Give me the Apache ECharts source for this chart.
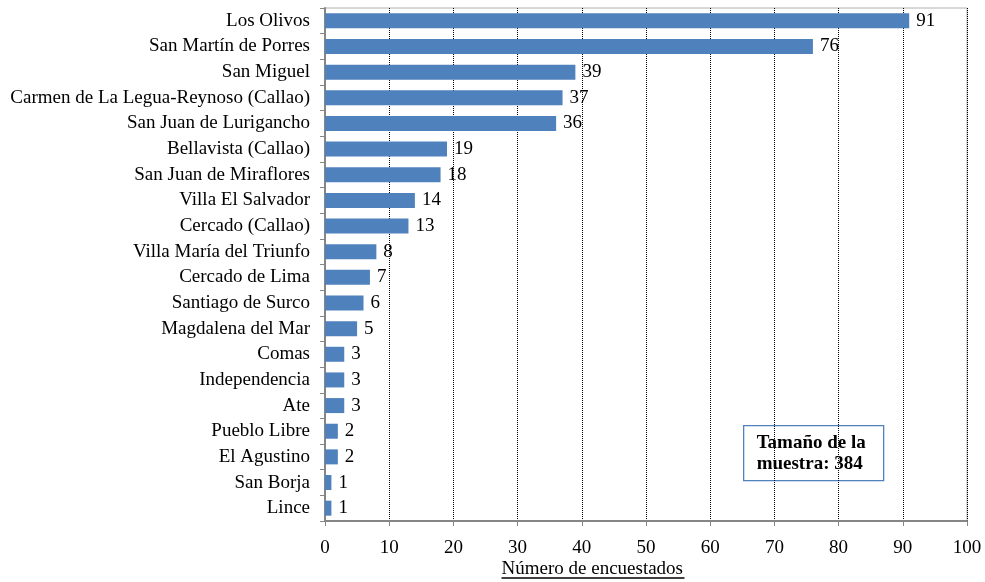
<!DOCTYPE html>
<html>
<head>
<meta charset="utf-8">
<script src="https://cdn.jsdelivr.net/npm/echarts@6/dist/echarts.min.js"></script>
<style>
  html, body { margin: 0; padding: 0; background: #fff; }
  #chart { width: 985px; height: 582px; }
</style>
</head>
<body>
<div id="chart"></div>
<script>
// Distritos de residencia de los encuestados (de mayor a menor)
const districts = [
  'Los Olivos', 'San Martín de Porres', 'San Miguel',
  'Carmen de La Legua-Reynoso (Callao)', 'San Juan de Lurigancho',
  'Bellavista (Callao)', 'San Juan de Miraflores', 'Villa El Salvador',
  'Cercado (Callao)', 'Villa María del Triunfo', 'Cercado de Lima',
  'Santiago de Surco', 'Magdalena del Mar', 'Comas', 'Independencia',
  'Ate', 'Pueblo Libre', 'El Agustino', 'San Borja', 'Lince'
];
const respondents = [91, 76, 39, 37, 36, 19, 18, 14, 13, 8, 7, 6, 5, 3, 3, 3, 2, 2, 1, 1];
const axisTitle = 'Número de encuestados';
const sampleNote = ['Tamaño de la', 'muestra: 384'];

const serif = '"Liberation Serif", "Times New Roman", serif';
const chart = echarts.init(document.getElementById('chart'));

chart.setOption({
  animation: false,
  grid: {
    left: 325, right: 18, top: 8, bottom: 61,
    show: true, borderColor: '#b0b0b0', borderWidth: 1
  },
  xAxis: {
    type: 'value', min: 0, max: 100, interval: 10,
    axisLine: { show: true, lineStyle: { color: '#868686', width: 2 } },
    axisTick: { show: true, length: 5, lineStyle: { color: '#868686' } },
    axisLabel: { color: '#000', fontFamily: serif, fontSize: 19, margin: 18 },
    splitLine: { show: true, lineStyle: { color: '#000', type: [1, 1], width: 1 } }
  },
  yAxis: {
    type: 'category', inverse: true, data: districts,
    axisLine: { show: true, lineStyle: { color: '#868686', width: 2 } },
    axisTick: { show: true, length: 5, lineStyle: { color: '#868686' } },
    axisLabel: { color: '#000', fontFamily: serif, fontSize: 19, margin: 15 },
    splitLine: { show: false }
  },
  series: [{
    type: 'bar',
    data: respondents,
    barWidth: 15,
    itemStyle: { color: '#4f81bd' },
    label: {
      show: true, position: 'right', distance: 7,
      color: '#000', fontFamily: serif, fontSize: 19
    }
  }],
  graphic: [
    {
      type: 'group', left: 499, top: 560,
      children: [
        { type: 'text', x: 0, y: 0,
          style: { text: axisTitle, fill: '#000', font: '19px ' + serif } },
        { type: 'line', shape: { x1: 0, y1: 18, x2: 183, y2: 18 },
          style: { stroke: '#000', lineWidth: 1.3 } }
      ]
    },
    {
      type: 'group', left: 743, top: 425,
      children: [
        { type: 'rect', shape: { x: 0, y: 0, width: 140, height: 55 },
          style: { fill: '#fff', stroke: '#4f81bd', lineWidth: 1.3 } },
        { type: 'text', x: 13, y: 7,
          style: { text: sampleNote.join('\n'), fill: '#000',
                   font: 'bold 19px ' + serif, lineHeight: 21 } }
      ]
    }
  ]
});
</script>
</body>
</html>
